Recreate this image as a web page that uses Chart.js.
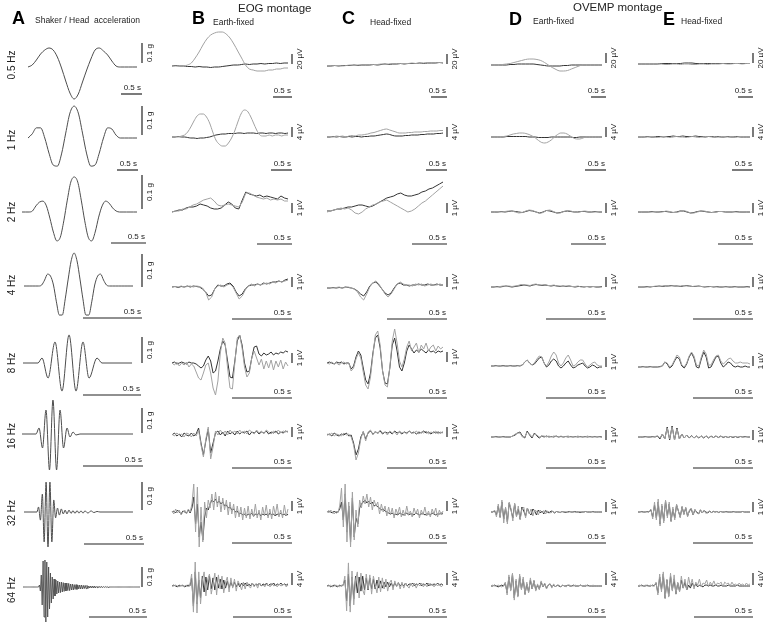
<!DOCTYPE html>
<html>
<head>
<meta charset="utf-8">
<script src="https://cdn.jsdelivr.net/npm/chart.js@4.4.0/dist/chart.umd.min.js"></script>
<style>
  body { margin: 0; width: 763px; height: 624px; position: relative; overflow: hidden; background: #fff;
         font-family: "Liberation Sans", Arial, sans-serif; color: #222; }
  canvas { position: absolute; }
  .t { position: absolute; white-space: pre; line-height: 1; }
  .rot { position: absolute; white-space: pre; line-height: 1; font-size: 10px; transform: translate(-50%, -50%) rotate(-90deg); }
</style>
</head>
<body>
<script>
// ---- labels ----
const freqLabels = ['0.5 Hz', '1 Hz', '2 Hz', '4 Hz', '8 Hz', '16 Hz', '32 Hz', '64 Hz'];
const accelBar = 0.1;               // g
const accelBarLabel = '0.1 g';
const uvBars = [20, 4, 1, 1, 1, 1, 1, 4];   // µV
const timeBar = 0.5;                // s

// ---- A: shaker / head acceleration (g) ----
const accel05 = [0,0.01,0.035,0.065,0.085,0.095,0.085,0.05,-0.005,-0.07,-0.13,-0.16,-0.135,-0.075,-0.015,0.04,0.085,0.095,0.08,0.06,0.03,0.005,0,0,0,0,0];
const accel1 = [0,0.014,0.035,0.035,0,-0.052,-0.093,-0.097,-0.055,0.017,0.086,0.11,0.086,0.017,-0.055,-0.097,-0.093,-0.052,0,0.035,0.031,0.01,0,0,0,0,0];
const accel2 = [0,0,0,0.003,0.018,0.029,0.032,0.018,-0.018,-0.059,-0.085,-0.074,-0.026,0.035,0.088,0.103,0.088,0.035,-0.026,-0.074,-0.085,-0.059,-0.015,0.018,0.032,0.026,0.012,0.003,0,0,0,0,0,0];
const accel4 = [0,0,0,0,0,0,0.003,0.018,0.036,0.03,0.003,-0.048,-0.088,-0.088,-0.039,0.021,0.076,0.1,0.076,0.021,-0.039,-0.088,-0.088,-0.048,0.003,0.03,0.036,0.018,0.003,0,0,0,0,0,0,0,0,0];
const accel8T = [0,0.129,0.164,0.216,0.276,0.336,0.397,0.457,0.517,0.569,0.638,0.681,0.94];
const accel8 = [0,0,0.019,-0.058,0.081,-0.108,0.108,-0.108,0.081,-0.058,0.019,0,0];
const accel16T = [0,0.117,0.142,0.171,0.2,0.229,0.258,0.288,0.317,0.346,0.375,0.4,0.425,0.45,0.483,0.925];
const accel16 = [0,0,0.024,-0.056,0.096,-0.144,0.136,-0.144,0.096,-0.056,0.024,-0.012,0.008,-0.004,0,0];
const accel32T = [0,0.108,0.121,0.137,0.153,0.168,0.184,0.2,0.216,0.232,0.248,0.263,0.279,0.295,0.311,0.327,0.343,0.358,0.375,0.392,0.408,0.425,0.442,0.458,0.475,0.492,0.508,0.533,0.558,0.583,0.608,0.633,0.908];
const accel32 = [0,0,0.018,-0.029,0.064,-0.107,0.107,-0.125,0.107,-0.107,0.043,-0.021,0.014,-0.011,0.011,-0.007,0.007,-0.007,0.007,-0.005,0.005,-0.005,0.005,-0.004,0.004,-0.004,0.004,-0.004,0.004,-0.002,0.002,0,0];
const accel64 = [0,0,0,0,0,0,0,0,0,0,0,0,0,0,0,0,0,0,
  0.01,-0.02,0.06,-0.09,0.13,-0.15,0.135,-0.175,0.125,-0.15,0.1,-0.11,0.07,-0.08,0.05,-0.06,0.04,-0.045,0.035,-0.035,
  0.03,-0.03,0.025,-0.028,0.025,-0.025,0.022,-0.022,0.02,-0.02,0.02,-0.018,0.018,-0.018,0.015,-0.015,0.015,-0.015,0.012,-0.012,
  0.012,-0.012,0.01,-0.01,0.01,-0.01,0.01,-0.01,0.008,-0.008,0.008,-0.008,0.008,-0.008,0.005,-0.005,0.005,-0.005,0.005,-0.005,
  0.005,-0.005,0.003,-0.003,0.003,-0.003,0.003,-0.003,0.003,-0.003,0.002,-0.002,0.002,-0.002,0.002,-0.002,
  0,0,0,0,0,0,0,0,0,0,0,0,0,0,0,0,0,0,0,0,0,0,0,0,0,0,0,0,0,0,0,0,0,0,0];

// ---- B: EOG earth-fixed (µV), dark and gray traces ----
const eogEarth05Dark = [0,1,0,0,-1,-1,-2,-1,-2,-2,-3,-2,-2,-1,0,1,2,2,3,4,3,4,4,5,4,5,5,6,5,6,6];
const eogEarth05Gray = [0,0,0,0,2,6,16,28,42,54,62,66,68,68,64,56,44,30,16,2,-6,-8,-10,-10,-10,-8,-8,-6,-6,-4,-4];
const eogEarth1Dark = [0,0,0.2,0,0,-0.2,-0.4,-0.4,-0.6,-0.4,-0.4,-0.2,0,0.4,0.8,1,1.2,1.2,1.4,1.4,1.4,1.6,1.6,1.4,1.6,1.6,1.6,1.4,1.6,1.6,1.4,1.6,1.6,1.4,1.6,1.6,1.4,1.6];
const eogEarth1Gray = [0,0.2,0,0.4,0.8,2,4,6.4,8.4,9.2,9.2,8,5.6,2,-1.2,-2.8,-3.6,-3.6,-2.4,-0.4,2.4,6,9.2,10.8,10.4,8.4,5.6,2.8,0.8,0.4,0.4,0.8,0.4,0.8,0.8,0.4,0.8,0.8];
const eogEarth2Dark = [0,0.1,0.2,0.2,0.4,0.5,0.5,0.6,0.8,0.7,0.6,0.4,0.3,0.3,0.4,0.7,1,0.8,0.4,0.3,1.2,2,1.8,1.7,1.6,1.7,1.5,1.6,1.5,1.4,1.3,1.6,1.4,1.3];
const eogEarth2Gray = [0,0.1,0.1,0.3,0.3,0.5,0.7,0.8,1,1.2,1.3,1.4,1.1,0.7,0.6,0.7,0.8,0.7,0.6,0.5,1,1.9,1.9,1.7,1.5,1.4,1.3,1.4,1.2,1.3,1.2,1.3,1.1,1.1];
const eogEarth4Dark = [0,0.05,-0.05,0.05,0,0.1,0,0.1,0.05,0,-0.2,-0.5,-0.9,-0.8,-0.2,0.2,0.1,0.1,0.3,0.4,0.1,-0.5,-0.9,-0.7,-0.2,0.1,0.2,0.2,0.3,0.2,0.4,0.3,0.4,0.5,0.5,0.6,0.5,0.7,0.8];
const eogEarth4Gray = [0,0.05,0,0.1,0,0.05,0.1,0,0.1,0.05,-0.1,-0.5,-1.3,-1,-0.2,0.1,0.2,0,0.2,0.3,0,-0.6,-1.2,-0.9,-0.3,0.1,0.3,0.1,0.3,0.2,0.3,0.4,0.3,0.5,0.4,0.6,0.5,0.6,0.7];
const eogEarth8Dark = [0,0.1,-0.1,0,0.1,0,-0.1,0.1,0,0,-0.1,-0.3,-0.5,-0.3,0.3,0.7,0.2,-1,-0.8,0.2,1.4,2.2,1.8,0.2,-1.4,-1.5,0.2,2.2,2.8,1.8,0,-0.9,-0.8,0.5,1.6,1.7,0.9,0.7,1,0.8,0.9,1.1,0.8,1,0.9,1.1,1,1.2,1.1];
const eogEarth8Gray = [0,-0.2,0.1,-0.3,0,-0.2,0.1,-0.4,-0.1,-0.3,-0.9,-1.5,-1.7,-1,-0.2,0,-1,-2.5,-3.2,-1.8,1,2.5,2,-0.5,-2.5,-2.6,0,2.5,2.8,1.5,-0.4,-1.4,-1,0.5,1.2,0.5,-0.2,0.4,-0.6,0.2,-0.5,0.3,-0.7,0.2,-0.4,0.3,-0.6,0.1,-0.3];
const eogEarth16Dark = [0,0.2,-0.1,0.1,-0.2,0.2,0,-0.1,0.2,-0.1,0.1,0.7,-0.8,-2,-0.6,0.6,-1.8,-0.8,0.2,0.4,0,0.3,-0.1,0.4,0.1,0.3,0,0.4,0.1,0.3,0.2,0.4,0,0.3,0.2,0.4,0.1,0.3,0.2,0.4,0.1,0.3,0.2,0.4,0.1,0.3,0.2,0.4,0.3];
const eogEarth16Gray = [0.1,-0.1,0.2,0,0.1,-0.2,0.2,0.1,-0.2,0.2,-0.1,0.5,-1,-2.2,-0.4,0.8,-2.4,-1.2,0.4,0,0.5,0.1,0.4,0,0.5,0.2,0.4,0.1,0.5,0.2,0.4,0.1,0.5,0.3,0.1,0.5,0.2,0.4,0.1,0.5,0.3,0.1,0.4,0.2,0.5,0.2,0.4,0.3,0.4];
const eogEarth32Dark = [0,0.1,-0.1,0.2,0,-0.2,0.1,0,-0.1,0.2,-0.1,0.4,1.5,-1.2,0.8,-2.5,-1,-2.8,-0.5,0.4,0.2,0.8,1.2,1,1.3,0.9,1.1,0.8,1,0.6,0.7,0.4,0.5,0.2,0.3,0,0.1,-0.2,-0.1,-0.3,-0.2,-0.4,-0.2,-0.3,-0.1,-0.4,-0.2,-0.3,-0.1,-0.4,-0.2,-0.3,-0.2,-0.4,-0.1,-0.3,-0.2,-0.4,-0.2,-0.3,-0.1,-0.3,-0.2,-0.4,-0.2];
const eogEarth32Gray = [0.1,-0.2,0.3,-0.1,0.2,-0.3,0,0.2,-0.2,0.3,0,0.8,2.8,-2,2.5,-3.5,0.5,-3,1,-0.6,1.2,0.4,1.8,0.2,2,0.5,1.6,0,1.4,0.2,1.2,-0.3,1,-0.2,0.8,-0.6,0.6,-0.5,0.5,-0.8,0.4,-0.6,0.6,-0.7,0.3,-0.5,0.8,-0.6,0.2,-0.8,0.5,-0.4,0.7,-0.6,0.3,-0.7,0.6,-0.3,0.8,-0.5,0.2,-0.6,0.7,-0.4,0.3];
const eogEarth64Dark = [0,0.3,0,-0.3,0.3,0,0.3,-0.3,0,0.3,0,2.7,-6.7,4.7,-6,2,-4,3.3,-2,3,-1.3,3.3,-1,2.7,-1.3,3,-0.7,2.3,-1,2,-0.7,1.7,-0.7,1.3,-0.3,1.3,-0.3,1,-0.3,1,0,1,0,0.7,0,1,0,0.7,0.3,1,0,0.7,0.3,1,0,0.7,0.3,1,0,0.7,0.3,1,0.3,0.7,0.3,0.7];
const eogEarth64Gray = [0,0,0.3,0,-0.3,0.3,0,0,0.3,-0.3,0.3,4,-8.7,8,-9,4.7,-6,1.7,4.7,-3.3,2.3,4,-2.7,0.7,4.3,-3,3.7,-1,3.3,-2.3,1.3,3,-2,2.7,-0.7,2.3,-1.7,1.7,0.3,-1.3,1.3,-1,1.3,0,-0.7,1,-0.3,0.7,-0.7,1,0,0.3,-0.3,0.7,0.3,-0.3,1,0,0.3,-0.3,0.7,0,0.3,0.7,-0.3,0.3];

// ---- C: EOG head-fixed (µV) ----
const eogHead05Dark = [0,0,1,0,1,1,1,2,1,2,2,2,3,2,3,4,3,4,4,5,4,5,5,5,6,5,6,6,6,7,6];
const eogHead05Gray = [1,0,1,1,0,1,2,1,2,2,3,2,3,3,4,3,4,5,4,5,5,5,6,5,6,6,7,6,6,7,7];
const eogHead1Dark = [0,0,0.2,0,0.2,0,0,0.2,0,0.2,0.2,0,0.2,0.2,0.4,0.4,0.6,0.8,1,1.2,1,0.6,0.4,0.4,0.4,0.6,0.6,0.8,0.8,0.8,1,1,1.2,1.2,1.2,1.4,1.4,1.6];
const eogHead1Gray = [0,0.2,0,0.4,0.2,0.4,0,0.4,0.6,0.4,0.8,0.8,1,1.2,1.6,1.8,2.2,2.6,3,3.2,2.8,2.4,2,1.6,1.6,1.6,1.8,1.8,2,2,2,2.2,2.2,2.4,2.4,2.4,2.6,2.6];
const eogHead2Dark = [0.1,0.1,0.2,0.3,0.3,0.4,0.5,0.5,0.6,0.7,0.7,0.6,0.5,0.6,0.8,1,1.2,1.4,1.5,1.6,1.8,1.9,1.7,1.6,1.6,1.7,1.8,2,2.1,2.3,2.4,2.6,2.8,3];
const eogHead2Gray = [0,0.1,0.2,0.3,0.4,0.3,0.4,0.2,-0.1,-0.2,0,0.3,0.5,0.7,0.8,1,1.1,1.2,1,0.8,0.6,0.4,0.2,0,0.1,0.3,0.6,0.9,1.1,1.4,1.7,2,2.3,2.6];
const eogHead4Dark = [0,0,0.05,0,0.05,0,0.1,0.05,0,-0.1,-0.3,-0.6,-0.8,-0.4,0.2,0.5,0.6,0.3,-0.1,-0.5,-0.7,-0.5,0,0.4,0.5,0.3,0.3,0.2,0.3,0.3,0.4,0.3,0.3,0.4,0.3,0.3,0.4,0.3,0.3];
const eogHead4Gray = [0,0.05,0,0.05,0.1,0,0.05,0.1,0,-0.1,-0.4,-0.9,-1.2,-0.6,0.1,0.5,0.7,0.4,-0.1,-0.6,-0.9,-0.6,-0.1,0.4,0.6,0.4,0.3,0.3,0.2,0.4,0.3,0.4,0.2,0.3,0.4,0.3,0.3,0.4,0.3];
const eogHead8Dark = [0,0.1,0,-0.1,0.1,0,0.1,-0.1,0,0,-0.6,-0.3,0.6,1.2,0.8,-0.5,-1.7,-2.1,-1,1,2.5,2.8,1.5,-0.8,-2,-2.1,-0.5,1.8,2.5,1.2,-0.4,-0.8,0,1.2,1.8,1.4,1,1.3,1.1,1.4,1.2,1,1.3,1.1,1.2,1,1.2,1.1,1.2];
const eogHead8Gray = [0,-0.1,0.1,-0.1,0,-0.2,0,0.1,-0.1,0,-0.8,-0.5,0.4,1,0.5,-0.9,-2.2,-2.6,-1.4,0.8,2.8,3.2,1.8,-0.8,-2.2,-2.4,-0.4,2.2,3.4,2,0.2,-0.4,0.4,1.6,2.2,1.2,1.6,2,1,1.8,1.4,2,1.2,1.6,1.8,1.2,1.7,1.4,1.6];
const eogHead16Dark = [0,0.1,-0.1,0.2,0,-0.1,0.1,0,0.2,-0.1,0,-0.8,-2,-1.4,-0.2,0.3,-0.4,0.2,0.4,0.1,0.3,0.2,0.4,0.1,0.3,0.2,0.3,0.1,0.4,0.2,0.3,0.1,0.3,0.2,0.4,0.2,0.3,0.1,0.3,0.2,0.4,0.2,0.3,0.1,0.3,0.2,0.3,0.2,0.3];
const eogHead16Gray = [0.1,0,0.2,-0.1,0.1,0,-0.1,0.2,0,0.1,-0.2,-1,-2.5,-1.8,-0.4,0.4,-0.6,0.3,0.5,0,0.4,0.1,0.5,0.2,0.3,0,0.4,0.2,0.3,0,0.4,0.2,0.3,0.1,0.4,0.2,0.2,0.4,0.1,0.3,0.2,0.4,0.1,0.3,0.2,0.4,0.1,0.3,0.2];
const eogHead32Dark = [0,0.1,0,-0.1,0.1,-0.1,0,0.3,1,-0.8,1.8,-2,0.6,-3,1.4,-2.5,-0.6,-1.2,0.4,0.8,1,1.2,0.9,1.1,0.8,1,0.6,0.7,0.5,0.4,0.2,0.3,0.1,0,-0.1,-0.2,-0.1,-0.3,-0.2,-0.3,-0.1,-0.2,-0.3,-0.2,-0.1,-0.3,-0.2,-0.2,-0.3,-0.1,-0.2,-0.3,-0.2,-0.1,-0.3,-0.2,-0.2,-0.3,-0.1,-0.2,-0.3,-0.2,-0.2,-0.1,-0.2];
const eogHead32Gray = [0.1,-0.1,0.2,0,-0.2,0.1,-0.1,0.6,2.4,-1.5,2.8,-3,1,-3.5,2,-2.8,0.2,-1.5,1.2,0.4,1.6,0.8,1.8,0.5,1.5,0.2,1.2,0.6,1,-0.2,0.8,0,0.6,-0.4,0.5,-0.3,0.4,-0.6,0.3,-0.2,0.5,-0.5,0.2,-0.4,0.6,-0.3,0.1,-0.5,0.4,-0.2,0.3,-0.6,0.2,-0.3,0.5,-0.4,0.1,-0.5,0.3,-0.2,0.4,-0.5,0.2,-0.3,0.1];
const eogHead64Dark = [0,0.3,-0.3,0,0.3,0,-0.3,0.3,0,0.3,2,-5,4,-6.7,3,-4.3,3.3,-2.3,3,-1.7,3.3,-1.3,2.7,-1.3,2.7,-1,2.3,-1,2,-0.7,1.7,-0.7,1.3,-0.3,1.3,-0.3,1,-0.3,1,0,1,0,0.7,0,1,0,0.7,0.3,1,0,0.7,0.3,1,0,0.7,0.3,1,0,0.7,0.3,0.7,0.3,1,0.3,0.7,0.3];
const eogHead64Gray = [0,0,0.3,-0.3,0,0.3,0,-0.3,0.3,0,3.3,-8.3,7.7,-8.7,5,-6.3,2,4.7,-4,4.3,-1.3,-3,4,-1,3.7,-2.7,3.3,0.3,-2.3,3,-2,2.7,-1,2.3,-1.7,1,2,-1.3,1.7,-0.3,1.3,-1,1.3,-0.7,1,0,-0.7,1,-0.3,1,-0.7,0.7,0,1,-0.3,0.7,-0.3,1,0,0.7,-0.3,0.7,0,0.7,-0.3,0.3];

// ---- D: OVEMP earth-fixed (µV) ----
const vempEarth05Dark = [0,0,0,0,0,1,1,2,2,2,2,2,1,0,-1,-2,-2,-2,-2,-1,-1,0,0,0,0,0,0,0,0,0];
const vempEarth05Gray = [0,0,0,1,2,3,5,7,9,11,12,12,11,9,5,0,-5,-9,-12,-12,-11,-8,-5,-2,0,0,0,0,0,0];
const vempEarth1Dark = [0,0,0,0,0,0.2,0.2,0.2,0.2,0.2,0.2,0.2,0,0,0,-0.2,-0.2,-0.2,-0.2,0,0,0,0,0,0,0,-0.2,-0.2,0,0,0,0,0,0,0,0];
const vempEarth1Gray = [0,0,0,0,0.2,0.4,0.8,1.2,1.4,1.6,1.6,1.4,1,0.4,-0.4,-1.4,-2.2,-2.4,-2,-1.2,0,1,1.6,1.6,1.2,0.4,-0.4,-0.8,-0.8,-0.4,0,0,0,0,0,0];
const vempEarth2Dark = [0,0,0,0.05,0,0.05,0.1,0.05,0,-0.05,0.05,0.15,0.1,0,-0.1,0,0.15,0.1,0,-0.1,-0.05,0.05,0.1,0.05,0,0,0.05,0.05,0,0,0.05,0,0];
const vempEarth2Gray = [0,0,0.05,0,0.05,0.1,0.1,0,-0.1,-0.05,0.1,0.2,0.15,0,-0.15,-0.05,0.15,0.2,0.05,-0.1,-0.1,0.05,0.15,0.1,0,-0.05,0.05,0.1,0.05,0,0,0.05,0];
const vempEarth4Dark = [0,0,0.05,0,0.05,0.1,0.05,0,0.05,0.1,0.15,0.2,0.15,0.1,0.2,0.25,0.2,0.15,0.2,0.15,0.1,0.15,0.1,0.05,0.1,0.05,0.1,0.05,0,0.05,0.05,0,0.05,0,0.05,0,0,0.05];
const vempEarth4Gray = [0,0.05,0,0.05,0.1,0.05,0.1,0.05,0.1,0.15,0.25,0.2,0.2,0.15,0.25,0.3,0.2,0.2,0.25,0.15,0.15,0.2,0.1,0.1,0.05,0.1,0.1,0.05,0.05,0.1,0,0.05,0.05,0,0.05,0.05,0,0];
const vempEarth8Dark = [0,0,0.05,0,0,0.05,0,0,0.05,0,0,0.05,0,0.1,0.4,0.6,0.3,0.1,0.2,0.5,0.8,0.9,0.3,-0.1,0.1,0.5,0.7,0.5,0,-0.2,0,0.3,0.5,0.1,-0.2,-0.1,0.1,0.2,0.3,0,-0.2,-0.1,0.1,0,-0.2,-0.1,-0.1];
const vempEarth8Gray = [0,0,0,0.05,0,0,0,0.05,0,0,0,0,0.05,0.1,0.4,0.6,0.3,0.1,0.3,0.7,1,0.9,0.3,0,0.4,1,1.4,1.1,0.3,0,0.3,0.8,1.1,0.6,0,0.1,0.4,0.6,0.6,0.2,-0.1,0.1,0.3,0.4,0.1,0,0];
const vempEarth16Dark = [0,0,0.05,0,0,0.05,0,0,0,0.1,0.2,0.4,0.5,0.1,-0.1,0.6,0.2,-0.1,0.4,0.1,-0.1,0.1,0,0.1,0,0.05,0,0.1,0,0.05,0,0.05,0,0.05,0,0.05,0,0.05,0,0.05,0,0.05,0,0.05,0,0.05,0];
const vempEarth16Gray = [0,0.05,0,0,0.05,0,0,0.05,0,0.1,0.3,0.4,0.4,0,0,0.5,0.3,0,0.3,0.2,0,0.1,0.1,0,0.1,0,0.1,0.05,0,0.1,0,0.05,0.1,0,0.05,0,0.1,0,0.05,0,0.1,0,0.05,0,0.05,0,0];
const vempEarth32Dark = [0,0,0.1,-0.3,0.6,-0.5,1,-0.7,0.4,-1,0.9,0.2,-0.6,0.8,-0.4,0.3,-0.7,0.5,0.1,-0.4,0.4,-0.1,-0.3,0.3,0.1,-0.3,0.2,-0.1,0.1,-0.2,0.15,0,-0.1,0.1,0.05,-0.1,0.05,0,-0.05,0.05,0,-0.05,0,0.05,0,0,0.05,0,0,-0.05,0,0,0.05,0,0,0,0.05,0,0,0,0,0];
const vempEarth32Gray = [0,0,0.2,-0.5,0.8,-0.6,1.2,-1.1,0.5,-1.2,1,0.3,-0.9,0.9,-0.5,0.6,-0.8,0.3,0.5,-0.6,0.4,-0.2,0.3,-0.4,0.2,0.1,-0.3,0.2,-0.1,0.15,-0.2,0.1,0,-0.1,0.1,-0.05,0.05,0,-0.05,0.05,0,0.05,-0.05,0,0.05,0,0,-0.05,0,0.05,0,0,0.05,0,0,0.05,0,0,0,0.05,0,0];
const vempEarth64Dark = [0,0,0.3,0,-0.3,0,0.3,0,1,-2.3,3,-1.3,4,-4,1.7,-3.3,3.3,-1,2.3,-2.7,0.7,-2,2,-1,1.7,-1.3,0.3,-1,1.3,-0.3,0.7,-0.7,0.3,0.7,-0.3,0.3,-0.3,0.3,0,-0.3,0.3,0,0,0.3,0,0,0.3,0,0,0,0.3,0,0,0,0.3,0,0,0,0,0,0,0,0];
const vempEarth64Gray = [0,0.3,0,0,0.3,0,-0.3,0,1.3,-3,3.7,-1.7,4.3,-4.7,2.3,-3.7,4,-1.3,3,-3,1.3,-2.3,2.7,-1,2,-1.7,0.7,-1.3,1.7,-0.3,1,-1,0.3,0.7,-0.7,0.7,-0.3,0.3,0.3,-0.3,0.3,0,-0.3,0.3,0.3,0,0,0.3,0,0,0.3,0,0,0.3,0,0,0,0.3,0,0,0,0,0];

// ---- E: OVEMP head-fixed (µV) ----
const vempHead05Dark = [0,0,0,0,0,0,1,1,1,1,1,1,2,2,2,1,1,1,1,1,1,1,1,1,1,1,1,1,1,1];
const vempHead05Gray = [0,0,0,0,0,0,0,-1,-1,0,0,-1,0,0,-1,-1,0,0,-1,0,0,0,1,0,0,1,1,0,1,1];
const vempHead1Dark = [0,0,0,0.2,0,0,0.2,0.2,0,0.2,0.2,0.4,0.2,0.2,0.4,0.2,0.2,0.2,0.4,0.2,0.2,0,0.2,0.2,0,0.2,0,0,0.2,0,0,0.2,0,0,0,0];
const vempHead1Gray = [0,0.2,0,0,0.2,0,-0.2,0,0.2,0,-0.2,0,0.2,0,0,-0.2,0,0.2,0,-0.2,0,0,0.2,0,-0.2,0,0,0.2,0,0,-0.2,0,0.2,0,0,0];
const vempHead2Dark = [0,0,0,0,0.05,0,0,0.05,0.05,0,-0.05,0,0.1,0.1,0,-0.1,-0.05,0.05,0.1,0.05,0,-0.05,0,0.05,0.05,0,0,0,0.05,0,0,0,0];
const vempHead2Gray = [0,0.05,0,0,0,0.05,0,0,0.1,0.05,-0.05,-0.05,0.05,0.15,0.05,-0.1,-0.1,0,0.1,0.1,0,-0.05,-0.05,0.05,0.05,0,0,0.05,0,0,0.05,0,0];
const vempHead4Dark = [0,0,0,0.05,0,0.05,0.05,0.1,0.05,0.1,0.1,0.15,0.1,0.1,0.05,0.1,0.15,0.1,0.05,0.05,0.1,0.05,0,0.05,0.05,0,0.05,0,0,0.05,0,0,0.05,0,0,0,0.05,0];
const vempHead4Gray = [0,0.05,0,0,0.05,0.05,0.1,0.05,0.1,0.15,0.1,0.1,0.15,0.05,0.1,0.15,0.1,0.1,0.05,0.1,0.05,0.05,0.05,0,0.05,0.05,0,0,0.05,0,0.05,0,0,0.05,0,0,0,0];
const vempHead8Dark = [0,0,0.05,0,0,0.05,0,0,0,0.05,0.1,0.5,0.3,-0.1,0.1,0.6,1,0.8,0.1,-0.1,0.3,1,1.4,0.9,0,-0.1,0.8,1.5,1,-0.1,0,0.5,1,1.1,0.4,0,0.2,0.5,0.4,0.1,0,0.1,0,0,0.1,0,0];
const vempHead8Gray = [0,0,0,0.05,0,0,0.05,0,0,0,0.1,0.5,0.4,0,0.2,0.7,1.2,1,0.2,0,0.4,1.1,1.5,1.1,0.2,0.1,1,1.7,1.3,0.2,0.2,0.7,1.1,1.2,0.6,0.3,0.5,0.8,0.9,0.6,0.4,0.4,0.5,0.4,0.4,0.4,0.3];
const vempHead16Dark = [0,0,0,0.05,0,0,0.05,0,0.1,-0.2,0.3,-0.2,1,-0.3,1.1,-0.3,0.9,-0.2,0.3,-0.1,0.2,-0.1,0.15,-0.1,0.1,-0.1,0.1,-0.1,0.1,-0.1,0.1,-0.05,0.1,-0.05,0.1,-0.05,0.05,-0.05,0.05,-0.05,0.05,-0.05,0.05,0,0.05,0,0];
const vempHead16Gray = [0,0.05,0,0,0.05,0,0,0.05,0.1,-0.1,0.3,-0.2,0.9,-0.2,1,-0.3,0.8,-0.2,0.3,-0.1,0.2,-0.1,0.1,-0.1,0.1,-0.05,0.1,-0.05,0.1,-0.05,0.05,-0.05,0.1,-0.05,0.05,0,0.05,-0.05,0.05,0,0.05,0,0.05,0,0,0.05,0];
const vempHead32Dark = [0,0,0.05,0,0,0.05,0,0.2,-0.5,0.7,-0.6,1,-1.2,0.6,-0.9,1.1,-0.4,0.8,-0.9,0.3,-0.6,0.7,0.1,-0.5,0.5,-0.2,0.4,-0.4,0.1,0.3,-0.3,0.2,0,-0.2,0.2,-0.1,0.15,0,-0.1,0.1,-0.05,0.05,0,0.05,-0.05,0.05,0,0,0.05,0,0,0,0.05,0,0,0,0,0.05,0,0,0,0];
const vempHead32Gray = [0,0.05,0,0,0.05,0,0,0.3,-0.7,1,-0.8,1.3,-1.4,0.8,-1.1,1.2,-0.6,1,-1,0.5,-0.8,0.8,0.1,-0.6,0.6,-0.3,0.5,-0.5,0.2,0.4,-0.3,0.3,-0.1,-0.2,0.25,-0.1,0.2,-0.15,0,0.1,-0.1,0.1,0,0.05,-0.05,0.05,0,0.05,0,0,0.05,0,0,0.05,0,0,0,0.05,0,0,0,0];
const vempHead64Dark = [0,0,0.3,0,0,0.3,0,0,0.3,0,1,-2.3,3,-1.3,4,-4,2,-3.3,3.3,-1.3,2.3,-2.7,1,-1.7,2,-0.7,1.3,-1.3,0.3,-0.7,1,-0.3,0.7,-0.3,0.3,0,-0.3,0.3,0.3,0,0.3,0,0,0.3,0,0,0.3,0,0,0,0.3,0,0,0,0,0.3,0,0,0,0,0,0,0];
const vempHead64Gray = [0,0.3,0,0,0.3,0,0,0.3,0,0,1.3,-3,4,-2,4.7,-4.3,2.3,-3.7,4.3,-1.7,3.7,-2.7,1.3,-2,3.3,-0.7,2.3,-1.3,3,0,2.3,-1,1.3,0.3,2.3,-0.3,1,0.7,2,-0.3,1.3,0.3,1.7,0,1,0.7,1.3,-0.3,1.3,0.7,1,0,1.3,0.3,0.7,0,1,0.3,0.7,0,1,0.3,0.7];

// ---- page geometry (px) ----
const aStart = [28, 28, 22, 24, 23, 22, 24, 23];
const aSpan = [109, 109, 115, 109, 109, 111, 109, 117];
const aBase = [67, 138, 212, 286, 363, 434, 512, 587];
const aBarPx = [20, 29, 34, 33, 26, 25, 28, 20];
const aBarBottom = [63, 135, 209, 287, 363, 433, 510, 587];
const aPps = [42, 42, 70, 118, 116, 120, 120, 116];
const aHbarY = [94, 170, 243, 318, 395, 466, 544, 617];
const aHbarRight = [142, 138, 146, 142, 141, 143, 144, 147];

const cols = [
  { start: 172, span: 116, barX: 292, pps1: 38, base: [66, 137, 212, 287, 363, 435, 512, 586], barBottom: [64, 137, 213, 287, 363, 437, 511, 585] },
  { start: 327, span: 116, barX: 447, pps1: 32, base: [66, 137, 212, 288, 363, 435, 512, 586], barBottom: [64, 137, 213, 287, 362, 437, 511, 585] },
  { start: 491, span: 111, barX: 606, pps1: 30, base: [65, 137, 212, 287, 366, 437, 512, 586], barBottom: [63, 137, 213, 287, 367, 440, 512, 585] },
  { start: 638, span: 112, barX: 753, pps1: 30, base: [64, 137, 212, 287, 367, 437, 512, 586], barBottom: [63, 137, 213, 287, 366, 440, 512, 585] }
];
const eBarPx = [10, 10, 10, 10, 10, 10, 10, 12];
const ePps = [38, 42, 70, 120, 120, 120, 120, 118];
const eHbarY = [97, 170, 244, 319, 398, 468, 543, 617];

const DARK = '#333', GRAY = '#a2a2a2', ACC = '#4d4d4d', INK = '#222';

const barText = {
  id: 'barText',
  afterDatasetsDraw(chart, args, o) {
    const { ctx, scales: { x, y } } = chart;
    ctx.save();
    ctx.fillStyle = INK;
    ctx.font = '8px "Liberation Sans", Arial, sans-serif';
    ctx.textAlign = 'right';
    ctx.fillText(o.time, x.getPixelForValue(o.h1) - 1, y.getPixelForValue(o.hy) - 4);
    ctx.textAlign = 'center';
    ctx.translate(x.getPixelForValue(o.vx) + 8, (y.getPixelForValue(o.v0) + y.getPixelForValue(o.v1)) / 2);
    ctx.rotate(-Math.PI / 2);
    ctx.textBaseline = 'middle';
    ctx.fillText(o.amp, 0, 0);
    ctx.restore();
  }
};

function line(points, color, width, smooth) {
  return {
    data: points, borderColor: color, borderWidth: width, pointRadius: 0,
    cubicInterpolationMode: smooth ? 'monotone' : 'default', tension: 0,
    borderJoinStyle: 'round', clip: false
  };
}

function panel(g, traces, amp, ampLabel) {
  const left = g.start - 6, top = g.base - 50;
  const w = g.barX + 16 - left, h = 100;
  const cv = document.createElement('canvas');
  cv.width = w; cv.height = h;
  cv.style.left = left + 'px'; cv.style.top = top + 'px';
  document.body.appendChild(cv);

  const ppu = g.barPx / amp;
  const tx = px => (px - g.start) / g.pps;
  const vy = py => (g.base - py) / ppu;
  const dur = g.span / g.pps;

  const datasets = traces.map(tr => {
    const pts = tr.v.map((v, i) => ({ x: tr.t ? tr.t[i] : i * dur / (tr.v.length - 1), y: v }));
    return line(pts, tr.color, tr.width || 1, tr.smooth);
  });

  const vx = tx(g.barX), v0 = vy(g.barBottom);
  datasets.push(line([{ x: vx, y: v0 }, { x: vx, y: v0 + amp }], INK, 1.2));
  const h1 = tx(g.hbarRight), hy = vy(g.hbarY);
  datasets.push(line([{ x: h1 - timeBar, y: hy }, { x: h1, y: hy }], INK, 1.2));

  new Chart(cv, {
    type: 'line',
    data: { datasets },
    options: {
      responsive: false, animation: false, events: [],
      layout: { padding: 0 },
      plugins: {
        legend: { display: false }, tooltip: { enabled: false },
        barText: { time: timeBar + ' s', amp: ampLabel, h1: h1, hy: hy, vx: vx, v0: v0, v1: v0 + amp }
      },
      scales: {
        x: { type: 'linear', display: false, min: tx(left), max: tx(left + w) },
        y: { type: 'linear', display: false, min: vy(top + h), max: vy(top) }
      }
    },
    plugins: [barText]
  });
}

// ---- column A ----
const accelTraces = [
  { v: accel05 }, { v: accel1 }, { v: accel2 }, { v: accel4 },
  { t: accel8T, v: accel8 }, { t: accel16T, v: accel16 }, { t: accel32T, v: accel32 }, { v: accel64 }
];
accelTraces.forEach((tr, r) => {
  panel({ start: aStart[r], span: aSpan[r], base: aBase[r], barPx: aBarPx[r], barBottom: aBarBottom[r],
          barX: 142, pps: aPps[r], hbarY: aHbarY[r], hbarRight: aHbarRight[r] },
        [{ v: tr.v, t: tr.t, color: ACC, smooth: r < 7, width: r === 7 ? 0.9 : 1 }], accelBar, accelBarLabel);
});

// ---- columns B..E ----
const sets = [
  [[eogEarth05Dark, eogEarth05Gray], [eogEarth1Dark, eogEarth1Gray], [eogEarth2Dark, eogEarth2Gray], [eogEarth4Dark, eogEarth4Gray],
   [eogEarth8Dark, eogEarth8Gray], [eogEarth16Dark, eogEarth16Gray], [eogEarth32Dark, eogEarth32Gray], [eogEarth64Dark, eogEarth64Gray]],
  [[eogHead05Dark, eogHead05Gray], [eogHead1Dark, eogHead1Gray], [eogHead2Dark, eogHead2Gray], [eogHead4Dark, eogHead4Gray],
   [eogHead8Dark, eogHead8Gray], [eogHead16Dark, eogHead16Gray], [eogHead32Dark, eogHead32Gray], [eogHead64Dark, eogHead64Gray]],
  [[vempEarth05Dark, vempEarth05Gray], [vempEarth1Dark, vempEarth1Gray], [vempEarth2Dark, vempEarth2Gray], [vempEarth4Dark, vempEarth4Gray],
   [vempEarth8Dark, vempEarth8Gray], [vempEarth16Dark, vempEarth16Gray], [vempEarth32Dark, vempEarth32Gray], [vempEarth64Dark, vempEarth64Gray]],
  [[vempHead05Dark, vempHead05Gray], [vempHead1Dark, vempHead1Gray], [vempHead2Dark, vempHead2Gray], [vempHead4Dark, vempHead4Gray],
   [vempHead8Dark, vempHead8Gray], [vempHead16Dark, vempHead16Gray], [vempHead32Dark, vempHead32Gray], [vempHead64Dark, vempHead64Gray]]
];
sets.forEach((col, c) => {
  const cg = cols[c];
  col.forEach(([dark, gray], r) => {
    panel({ start: cg.start, span: cg.span, base: cg.base[r], barPx: eBarPx[r], barBottom: cg.barBottom[r],
            barX: cg.barX, pps: r === 0 ? cg.pps1 : ePps[r], hbarY: eHbarY[r], hbarRight: cg.barX },
          [{ v: gray, color: GRAY, smooth: r < 2 }, { v: dark, color: DARK, smooth: r < 2 }], uvBars[r], uvBars[r] + ' µV');
  });
});

// ---- text ----
const headers = [
  ['A', 12, 18, 18, 'bold'], ['Shaker / Head  acceleration', 35, 20, 8.5],
  ['B', 192, 18, 18, 'bold'], ['Earth-fixed', 213, 22, 8.5], ['EOG montage', 238, 9, 11.5],
  ['C', 342, 18, 18, 'bold'], ['Head-fixed', 370, 22, 8.5],
  ['D', 509, 19, 18, 'bold'], ['Earth-fixed', 533, 21, 8.5], ['OVEMP montage', 573, 8, 11.5],
  ['E', 663, 19, 18, 'bold'], ['Head-fixed', 681, 21, 8.5]
];
headers.forEach(([txt, x, cy, size, weight]) => {
  const d = document.createElement('div');
  d.className = 't';
  d.textContent = txt;
  d.style.left = x + 'px';
  d.style.top = (cy - size * 0.5) + 'px';
  d.style.fontSize = size + 'px';
  if (weight) { d.style.fontWeight = weight; d.style.color = '#000'; }
  document.body.appendChild(d);
});
const freqY = [65, 140, 212, 285, 363, 436, 513, 590];
freqLabels.forEach((txt, r) => {
  const d = document.createElement('div');
  d.className = 'rot';
  d.textContent = txt;
  d.style.left = '12px';
  d.style.top = freqY[r] + 'px';
  document.body.appendChild(d);
});
</script>
</body>
</html>
